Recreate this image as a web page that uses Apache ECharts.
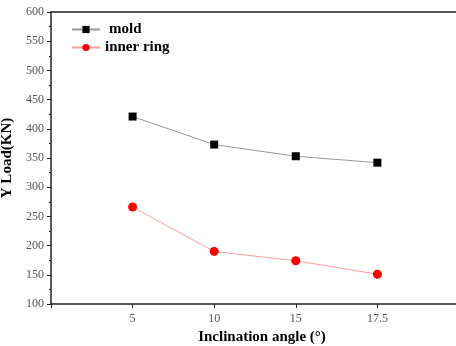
<!doctype html>
<html>
<head>
    <meta charset="UTF-8">
    <title>Y Load</title>
    <script src="https://cdn.jsdelivr.net/npm/echarts@6/dist/echarts.min.js"></script>
    <style>
        html, body { margin: 0; padding: 0; background: #fff; }
        #chart { width: 456px; height: 346px; }
    </style>
</head>
<body>
    <div id="chart"></div>
    <script type="text/javascript">
        // 倾角 (x 轴标签)
        var angles = ['5', '10', '15', '17.5'];
        var moldLoad = [421, 373, 353, 342];
        var innerRingLoad = [266, 190, 174, 151];
        var yTicks = [100, 600, 50]; // min, max, interval

        // 两端留空位，让点落在 5/10/15/17.5 的位置
        var categories = [''].concat(angles, ['']);
        function pad(arr) {
            return [null].concat(arr, [null]);
        }

        var serif = 'Liberation Serif';
        var myChart = echarts.init(document.getElementById('chart'));
        var option = {
            animation: false,
            grid: {
                left: 51,
                right: -3,
                top: 12,
                bottom: 42,
                outerBoundsMode: 'none',
                containLabel: false
            },
            legend: {
                orient: 'vertical',
                left: 66,
                top: 17,
                itemWidth: 28,
                itemHeight: 9,
                itemGap: 3,
                textStyle: {
                    fontFamily: serif,
                    fontWeight: 'bold',
                    fontSize: 15,
                    color: '#000'
                },
                data: [
                    { name: 'mold', textStyle: { padding: [0, 0, 0, 4] } },
                    { name: 'inner ring' }
                ]
            },
            xAxis: [
                {
                    type: 'category',
                    data: categories,
                    boundaryGap: false,
                    name: 'Inclination angle (°)',
                    nameLocation: 'middle',
                    nameGap: 25,
                    nameTextStyle: {
                        fontFamily: serif,
                        fontWeight: 'bold',
                        fontSize: 15,
                        color: '#000',
                        padding: [0, 0, 0, 14]
                    },
                    axisLine: { lineStyle: { color: '#222', width: 1.5 } },
                    axisTick: { show: true, inside: false, length: 4, alignWithLabel: true, lineStyle: { color: '#222' } },
                    axisLabel: {
                        fontFamily: serif,
                        fontSize: 12,
                        color: '#555',
                        margin: 9
                    },
                    splitLine: { show: false }
                },
                {
                    // 顶部边框线
                    type: 'category',
                    data: categories,
                    boundaryGap: false,
                    position: 'top',
                    axisLine: { lineStyle: { color: '#222', width: 1.5 } },
                    axisTick: { show: false },
                    axisLabel: { show: false },
                    splitLine: { show: false }
                }
            ],
            yAxis: {
                type: 'value',
                min: yTicks[0],
                max: yTicks[1],
                interval: yTicks[2],
                name: 'Y Load(KN)',
                nameLocation: 'middle',
                nameGap: 29,
                nameTextStyle: {
                    fontFamily: serif,
                    fontWeight: 'bold',
                    fontSize: 15,
                    color: '#000'
                },
                axisLine: { show: true, lineStyle: { color: '#222', width: 1.5 } },
                axisTick: { show: true, inside: false, length: 4, lineStyle: { color: '#222' } },
                minorTick: { show: true, splitNumber: 2, length: 2, lineStyle: { color: '#222' } },
                axisLabel: {
                    fontFamily: serif,
                    fontSize: 12,
                    color: '#555',
                    margin: 7
                },
                splitLine: { show: false }
            },
            series: [
                {
                    name: 'mold',
                    type: 'line',
                    data: pad(moldLoad),
                    symbol: 'rect',
                    symbolSize: 8,
                    itemStyle: { color: '#000' },
                    lineStyle: { color: '#999', width: 1 }
                },
                {
                    name: 'inner ring',
                    type: 'line',
                    data: pad(innerRingLoad),
                    symbol: 'circle',
                    symbolSize: 9,
                    itemStyle: { color: '#ff0000' },
                    lineStyle: { color: '#ff9a9a', width: 1 }
                }
            ]
        };
        myChart.setOption(option);
    </script>
</body>
</html>
